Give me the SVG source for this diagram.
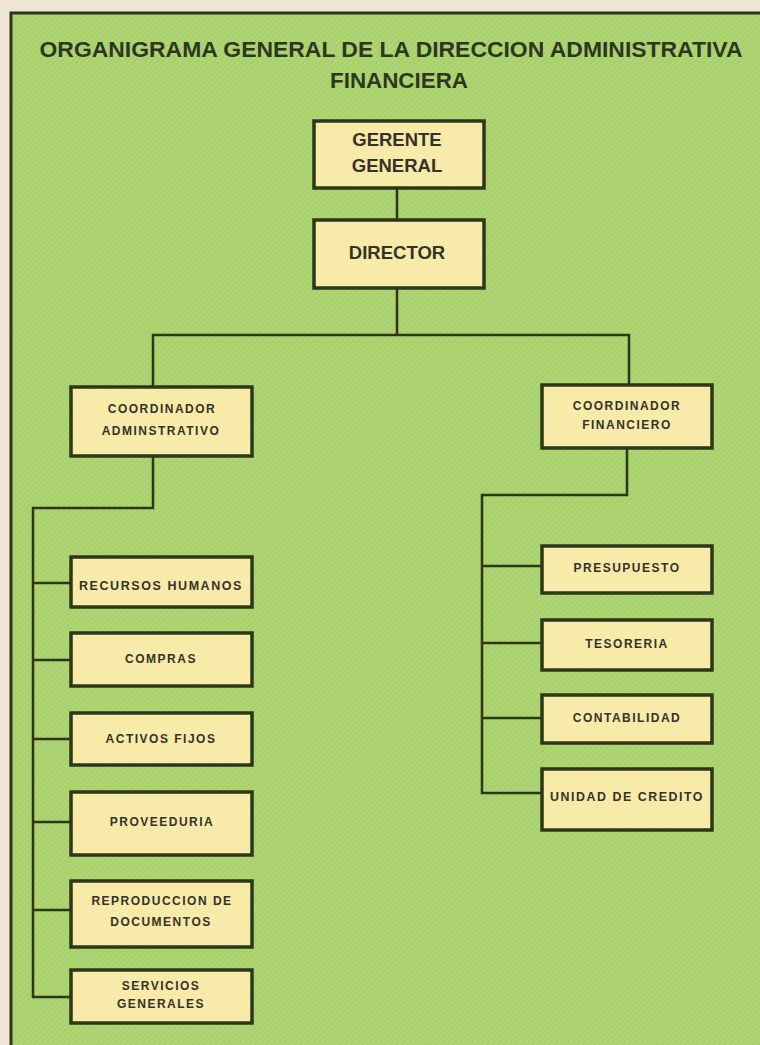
<svg xmlns="http://www.w3.org/2000/svg" width="760" height="1045" viewBox="0 0 760 1045">
<defs>
<pattern id="hatch" width="4" height="4" patternUnits="userSpaceOnUse" patternTransform="rotate(45)">
<rect width="4" height="4" fill="#a9d16b"/>
<line x1="0" y1="0" x2="0" y2="4" stroke="#b9da86" stroke-width="1.5"/>
</pattern>
</defs>
<style>
.box{fill:#f8eaa8;stroke:#2c3718;stroke-width:3.5}
.conn{fill:none;stroke:#2c3718;stroke-width:2.5}
.t{font-family:"Liberation Sans",Arial,sans-serif;font-weight:bold;fill:#33332a;text-anchor:middle}
.big{font-size:18.5px}
.sm{font-size:12px;letter-spacing:1.5px}
.title{font-family:"Liberation Sans",Arial,sans-serif;font-weight:bold;fill:#2c3720;font-size:22px;text-anchor:middle}
</style>
<rect x="0" y="0" width="760" height="1045" fill="#efe5d3"/>
<rect x="11" y="13" width="760" height="1040" fill="url(#hatch)" stroke="#2c3718" stroke-width="3"/>
<g id="title">
<text class="title" x="391" y="57" textLength="703" lengthAdjust="spacingAndGlyphs">ORGANIGRAMA GENERAL DE LA DIRECCION ADMINISTRATIVA</text>
<text class="title" x="399" y="88" textLength="138" lengthAdjust="spacingAndGlyphs">FINANCIERA</text>
</g>
<g id="connectors">
<line class="conn" x1="397" y1="189" x2="397" y2="220"/>
<line class="conn" x1="397" y1="288" x2="397" y2="335"/>
<polyline class="conn" points="153,387 153,335 629,335 629,385"/>
<polyline class="conn" points="153,456 153,508 33,508 33,997 71,997"/>
<line class="conn" x1="33" y1="583" x2="71" y2="583"/>
<line class="conn" x1="33" y1="660" x2="71" y2="660"/>
<line class="conn" x1="33" y1="739" x2="71" y2="739"/>
<line class="conn" x1="33" y1="822" x2="71" y2="822"/>
<line class="conn" x1="33" y1="910" x2="71" y2="910"/>
<polyline class="conn" points="627,448 627,495 482,495 482,793 542,793"/>
<line class="conn" x1="482" y1="566" x2="542" y2="566"/>
<line class="conn" x1="482" y1="643" x2="542" y2="643"/>
<line class="conn" x1="482" y1="718" x2="542" y2="718"/>
</g>
<g id="gerente"><rect class="box" x="314" y="121" width="170" height="67"/>
<text class="t big" x="397" y="146">GERENTE</text><text class="t big" x="397" y="172">GENERAL</text></g>
<g id="director"><rect class="box" x="314" y="220" width="170" height="68"/>
<text class="t big" x="397" y="259">DIRECTOR</text></g>
<g id="coord-admin"><rect class="box" x="71" y="387" width="181" height="69"/>
<text class="t sm" x="162" y="413">COORDINADOR</text><text class="t sm" x="161" y="435">ADMINSTRATIVO</text></g>
<g id="coord-fin"><rect class="box" x="542" y="385" width="170" height="63"/>
<text class="t sm" x="627" y="410">COORDINADOR</text><text class="t sm" x="627" y="429">FINANCIERO</text></g>
<g id="rrhh"><rect class="box" x="71" y="557" width="181" height="50"/>
<text class="t sm" x="161" y="590" textLength="164" lengthAdjust="spacingAndGlyphs">RECURSOS HUMANOS</text></g>
<g id="compras"><rect class="box" x="71" y="633" width="181" height="53"/>
<text class="t sm" x="161" y="663">COMPRAS</text></g>
<g id="activos"><rect class="box" x="71" y="713" width="181" height="52"/>
<text class="t sm" x="161" y="743">ACTIVOS FIJOS</text></g>
<g id="proveeduria"><rect class="box" x="71" y="792" width="181" height="63"/>
<text class="t sm" x="162" y="826">PROVEEDURIA</text></g>
<g id="reproduccion"><rect class="box" x="71" y="881" width="181" height="66"/>
<text class="t sm" x="162" y="905">REPRODUCCION DE</text><text class="t sm" x="161" y="926">DOCUMENTOS</text></g>
<g id="servicios"><rect class="box" x="71" y="970" width="181" height="53"/>
<text class="t sm" x="161" y="990">SERVICIOS</text><text class="t sm" x="161" y="1008">GENERALES</text></g>
<g id="presupuesto"><rect class="box" x="542" y="546" width="170" height="47"/>
<text class="t sm" x="627" y="572">PRESUPUESTO</text></g>
<g id="tesoreria"><rect class="box" x="542" y="620" width="170" height="50"/>
<text class="t sm" x="627" y="648">TESORERIA</text></g>
<g id="contabilidad"><rect class="box" x="542" y="695" width="170" height="48"/>
<text class="t sm" x="627" y="722">CONTABILIDAD</text></g>
<g id="credito"><rect class="box" x="542" y="769" width="170" height="61"/>
<text class="t sm" x="627" y="801" textLength="154" lengthAdjust="spacingAndGlyphs">UNIDAD DE CREDITO</text></g>
</svg>
